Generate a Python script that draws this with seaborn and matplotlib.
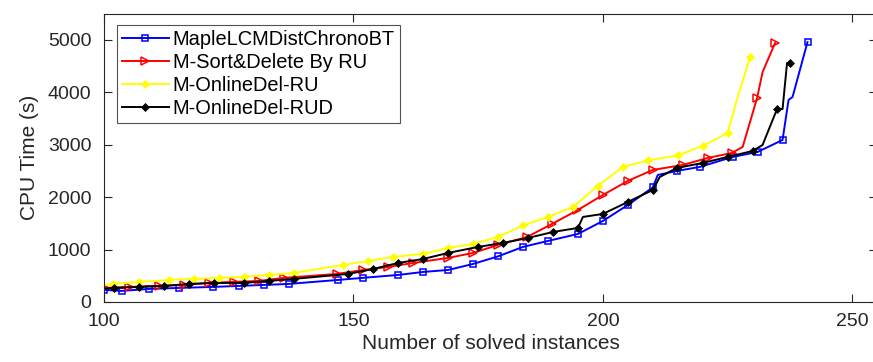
import numpy as np
import pandas as pd
import matplotlib
matplotlib.use("Agg")
import matplotlib.pyplot as plt
import seaborn as sns

# Données (nombre d'instances résolues, temps CPU en s)
x_maple = [100, 103.6, 109, 115, 121.8, 127, 132, 137, 147, 152, 159, 164, 169, 174, 179, 184, 189, 195,
           200, 205, 210, 211, 214.8, 219.4, 226, 231, 236, 237.2, 238, 241]
y_maple = [230, 210, 248, 267, 286, 305, 324, 343, 420, 460, 515, 572, 610, 725, 870, 1050, 1164, 1297,
           1545, 1850, 2185, 2423, 2500, 2576, 2767, 2862, 3091, 3855, 3911, 4960]
m_maple = [0, 1, 2, 3, 4, 5, 6, 7, 8, 9, 10, 11, 12, 13, 14, 15, 16, 17, 18, 19, 20, 22, 23, 24, 25, 26, 29]

x_sort = [100, 105, 111, 116, 121, 126, 131, 136, 146.7, 152, 157, 162, 169, 174, 179, 184.8, 189.8, 194.8,
          200, 205, 210, 216, 221, 225.8, 228, 230.9, 232, 234.5]
y_sort = [267, 286, 305, 324, 362, 382, 400, 458, 534, 610, 668, 744, 840, 935, 1088, 1240, 1488, 1745,
          2041, 2310, 2519, 2614, 2747, 2843, 2957, 3892, 4388, 4941]
m_sort = [0, 1, 2, 3, 4, 5, 6, 7, 8, 9, 10, 11, 12, 13, 14, 15, 16, 17, 18, 19, 20, 21, 22, 23, 25, 27]

x_ru = [100, 101.8, 107, 113, 118, 123, 128, 133, 138, 148, 153, 158, 164, 169, 174, 179, 184, 189, 194,
        199, 204, 209, 215, 220, 225, 227, 229.5]
y_ru = [320, 343, 382, 420, 439, 458, 477, 515, 553, 706, 782, 859, 916, 1030, 1107, 1240, 1460, 1622, 1813,
        2213, 2576, 2700, 2795, 2976, 3224, 3911, 4675]
m_ru = [1, 2, 3, 4, 5, 6, 7, 8, 9, 10, 11, 12, 13, 14, 15, 16, 17, 18, 19, 20, 21, 22, 23, 24, 26]

x_rud = [100, 102, 107, 112, 117, 122, 128, 133, 138, 149, 154, 159, 164, 169, 175, 180, 185, 190, 195,
         196, 200, 205, 210, 211.4, 214.8, 220, 225, 230, 232, 234.9, 236, 236.9, 237.5]
y_rud = [250, 267, 286, 305, 343, 362, 362, 400, 439, 534, 630, 744, 820, 935, 1050, 1126, 1221, 1335, 1412,
         1622, 1679, 1908, 2137, 2385, 2557, 2652, 2767, 2881, 2996, 3682, 3682, 4560, 4560]
m_rud = [1, 2, 3, 4, 5, 6, 7, 8, 9, 10, 11, 12, 13, 14, 15, 16, 17, 18, 20, 21, 22, 24, 25, 26, 27, 29, 32]

labels = ["MapleLCMDistChronoBT", "M-Sort&Delete By RU", "M-OnlineDel-RU", "M-OnlineDel-RUD"]

plt.rcParams['font.family'] = ['Liberation Sans', 'DejaVu Sans']

fig = plt.figure(figsize=(8.73, 3.62), dpi=100)
ax = fig.add_axes([0.119, 0.166, 0.886, 0.796])

gris = '#262626'
series = [
    (x_maple, y_maple, m_maple, 'blue', 's', 'none', 4),
    (x_sort, y_sort, m_sort, 'red', '>', 'none', 6),
    (x_ru, y_ru, m_ru, 'yellow', 'D', 'yellow', 3.5),
    (x_rud, y_rud, m_rud, 'black', 'D', 'black', 3.5),
]
for (xs, ys, mk, col, mrk, face, ms), lab in zip(series, labels):
    sns.lineplot(x=xs, y=ys, ax=ax, color=col, marker=mrk, markevery=mk, markersize=ms,
                 markerfacecolor=face, markeredgecolor=col, markeredgewidth=1.1,
                 linewidth=1.4, label=lab, sort=False)

ax.set_xlim(100, 255)
ax.set_ylim(0, 5500)
ax.set_xticks([100, 150, 200, 250])
ax.set_yticks([0, 1000, 2000, 3000, 4000, 5000])
ax.tick_params(direction='in', length=6, width=0.8, top=True, right=True,
               labelsize=14, colors=gris, labelcolor=gris)
ax.tick_params(axis='y', pad=9)
ax.tick_params(axis='x', pad=8)
for sp in ax.spines.values():
    sp.set_color(gris)
    sp.set_linewidth(0.8)
ax.set_xlabel('Number of solved instances', fontsize=15, color=gris, labelpad=3)
ax.set_ylabel('CPU Time (s)', fontsize=15, color=gris, labelpad=6)

leg = ax.legend(loc='upper left', bbox_to_anchor=(0.0165, 0.96), fontsize=14.4, frameon=True,
                fancybox=False, edgecolor=gris, handlelength=2.35, handletextpad=0.2,
                labelspacing=0.2, borderpad=0.25, borderaxespad=0)
leg.get_frame().set_linewidth(0.8)

fig.savefig('out.png', dpi=100)
